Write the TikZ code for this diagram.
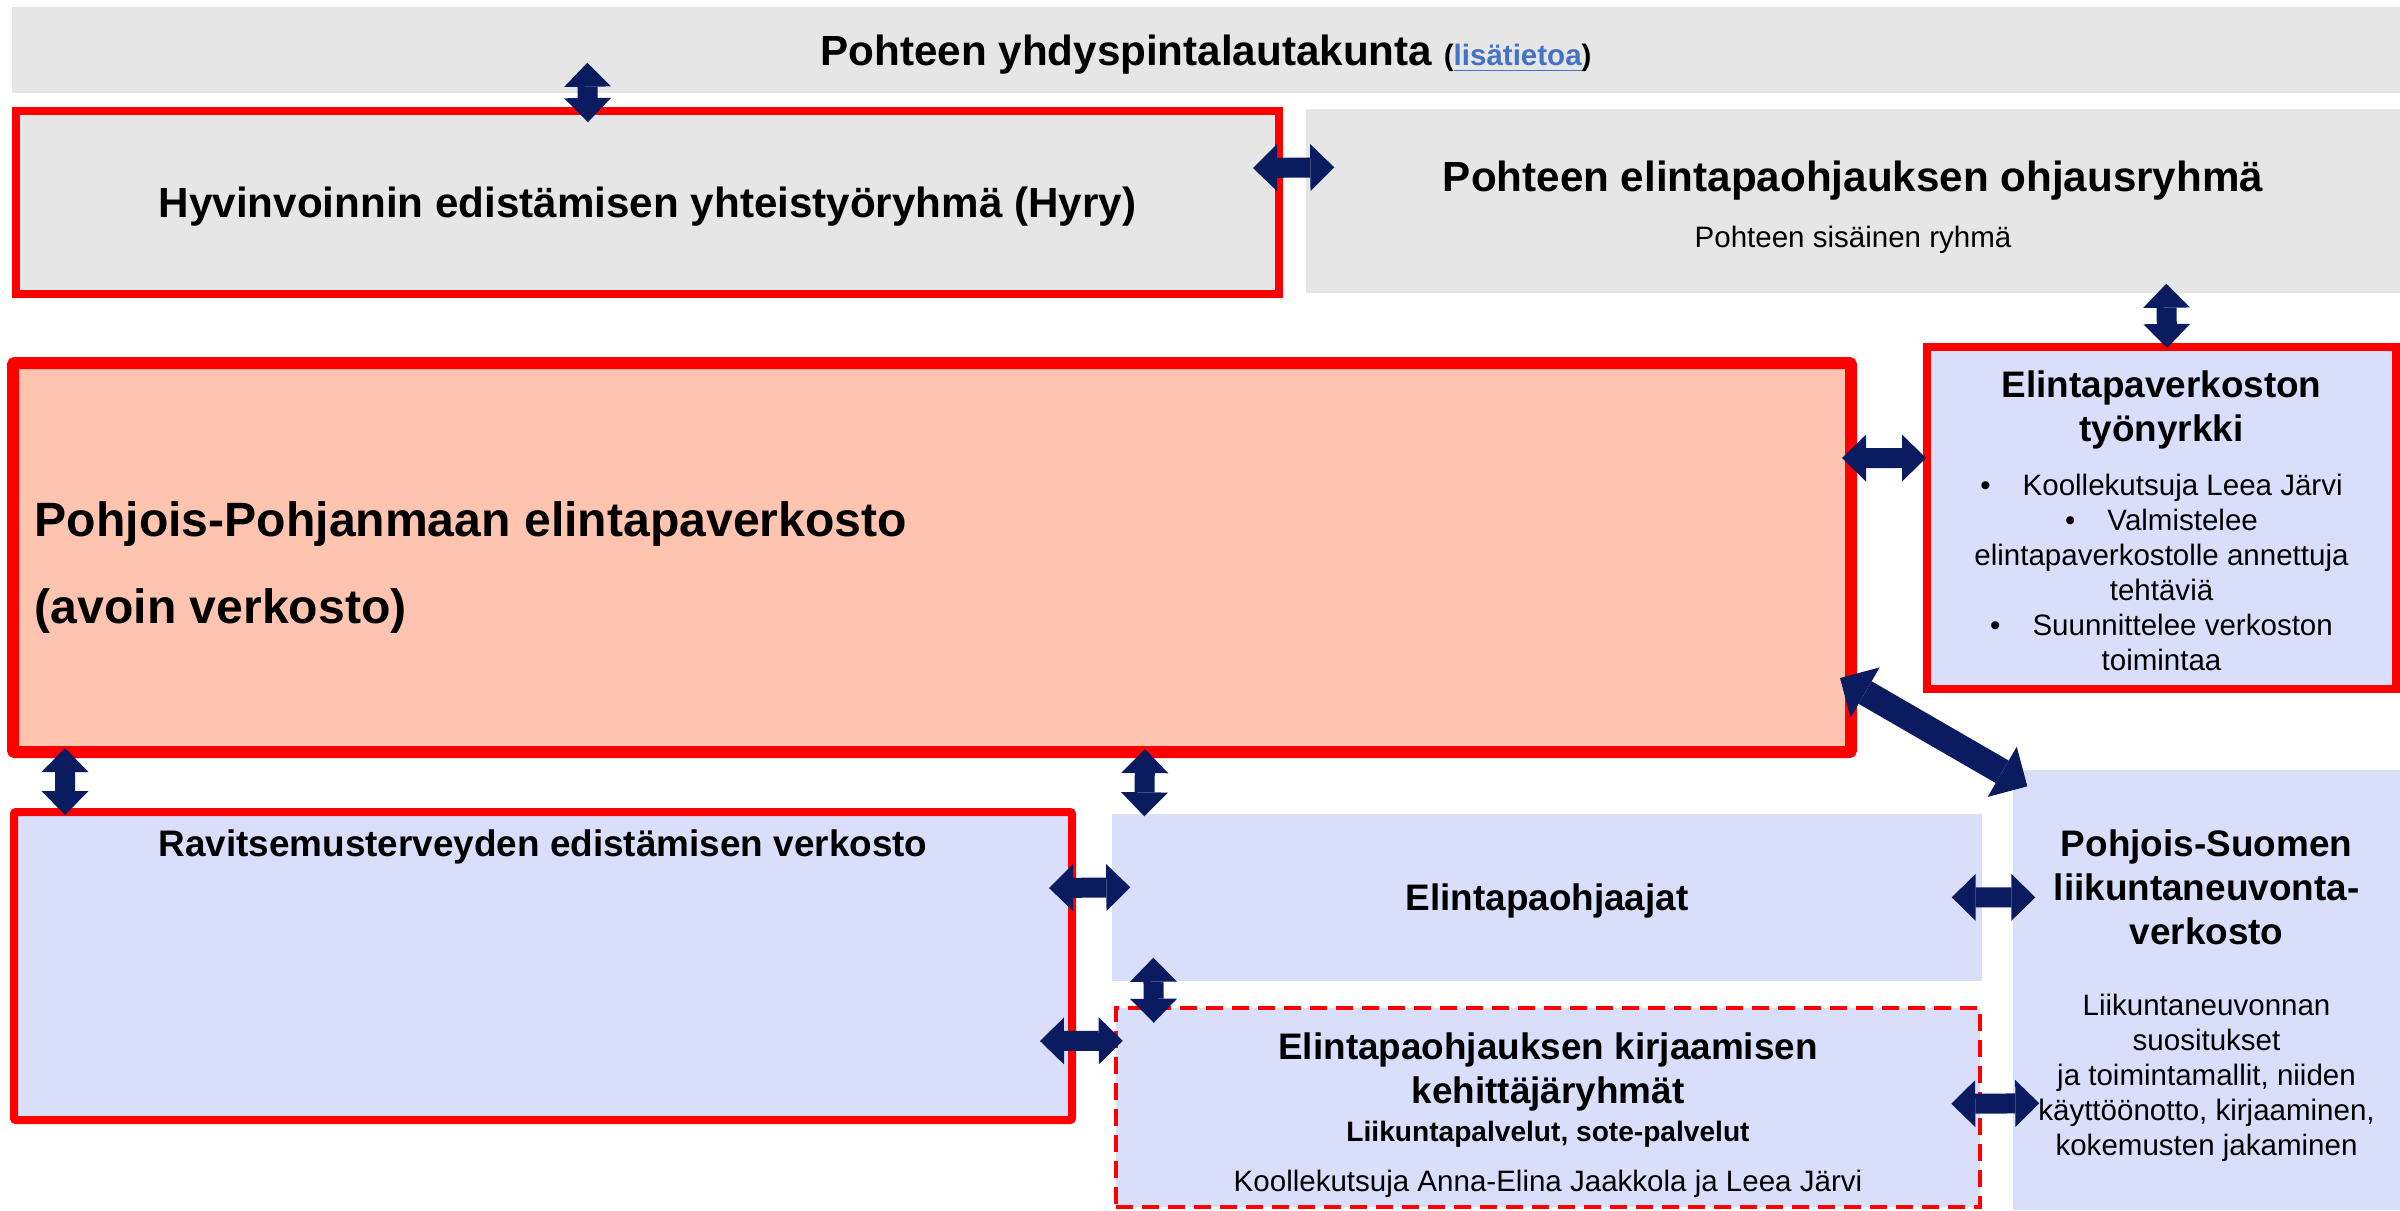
\documentclass[tikz,border=0pt]{standalone}
\usepackage{fontspec}
\setmainfont{Liberation Sans}
\usetikzlibrary{arrows.meta,calc}

\definecolor{boxgray}{HTML}{E7E6E6}
\definecolor{netsalmon}{HTML}{FFC4B0}
\definecolor{boxblue}{HTML}{D9DFFA}
\definecolor{arrnavy}{HTML}{0B1B60}
\definecolor{linkblue}{HTML}{4472C4}

\tikzset{
  grayfill/.style={fill=boxgray, inner sep=0pt},
  bluefill/.style={fill=boxblue, inner sep=0pt},
  redbox/.style={draw=red, line width=0.8mm, inner sep=0pt},
  dblarrow/.style={draw=arrnavy, line width=2mm,
    {Triangle[width=4.7mm,length=2.4mm,line width=0pt]}-{Triangle[width=4.7mm,length=2.4mm,line width=0pt]}},
  bigarrow/.style={draw=arrnavy, line width=2.6mm,
    {Triangle[width=5.8mm,length=2.9mm,line width=0pt]}-{Triangle[width=5.8mm,length=2.9mm,line width=0pt]}},
  hdtxt/.style={font=\fontsize{12pt}{14pt}\selectfont\bfseries},
  midtxt/.style={font=\fontsize{10.5pt}{12.5pt}\selectfont\bfseries, align=center},
  smalltxt/.style={font=\fontsize{8.4pt}{9.96pt}\selectfont, align=center},
}

\begin{document}
\begin{tikzpicture}[x=0.1mm, y=-0.1mm]
\useasboundingbox (0,0) rectangle (2400,1210);

% upper row
\node[grayfill, minimum width=238.8mm, minimum height=8.6mm, text depth=0pt, hdtxt] (yhd) at (1206,50)
  {Pohteen yhdyspintalautakunta {\fontsize{8.4pt}{10pt}\selectfont(\textcolor{linkblue}{\underline{lisätietoa}})}};
\node[redbox, fill=boxgray, minimum width=126.3mm, minimum height=18.3mm, text depth=0pt, hdtxt] (hyry) at (647.5,202.5)
  {Hyvinvoinnin edistämisen yhteistyöryhmä (Hyry)};
\node[grayfill, minimum width=109.4mm, minimum height=18.4mm] (ohjr) at (1853,201) {};
\node[hdtxt] (ohjrt) at ($(ohjr.center)+(0,-20)$) {Pohteen elintapaohjauksen ohjausryhmä};
\node[smalltxt] (ohjrs) at ($(ohjr.center)+(0,39)$) {Pohteen sisäinen ryhmä};

% the open network
\node[draw=red, line width=1.2mm, fill=netsalmon, rounded corners=0.2mm, inner sep=0pt,
  minimum width=183.8mm, minimum height=38.9mm] (pp) at (932,557.5) {};
\node[font=\fontsize{13.7pt}{16pt}\selectfont\bfseries, anchor=west, inner sep=0pt] (ppt)
  at ($(pp.west)+(27,-33)$) {Pohjois-Pohjanmaan elintapaverkosto};
\node[font=\fontsize{13.7pt}{16pt}\selectfont\bfseries, anchor=west, inner sep=0pt] (ppa)
  at ($(pp.west)+(27,54)$) {(avoin verkosto)};

\node[redbox, fill=boxblue, minimum width=46.9mm, minimum height=34.2mm] (tyo) at (2161.5,518) {};
\node[midtxt] (tyot) at ($(tyo.center)+(0,-108)$) {Elintapaverkoston\\työnyrkki};
\node[smalltxt] (tyob) at ($(tyo.center)+(0,54)$)
  {•\hspace{3.2mm}Koollekutsuja Leea Järvi\\•\hspace{3.2mm}Valmistelee\\elintapaverkostolle annettuja\\tehtäviä\\•\hspace{3.2mm}Suunnittelee verkoston\\toimintaa};

% lower row
\node[redbox, fill=boxblue, rounded corners=0.2mm, minimum width=105.8mm, minimum height=30.8mm] (rav) at (543,966) {};
\node[midtxt] (ravt) at ($(rav.north)+(0,39)$) {Ravitsemusterveyden edistämisen verkosto};

\node[bluefill, minimum width=87mm, minimum height=16.7mm, text depth=0pt, midtxt] (eoh) at (1547,897.5) {Elintapaohjaajat};

\node[draw=red, line width=0.45mm, dash pattern=on 1.7mm off 0.9mm, fill=boxblue, inner sep=0pt,
  minimum width=86.4mm, minimum height=19.9mm] (kir) at (1548,1107.5) {};
\node[midtxt] (kirt) at ($(kir.north)+(0,66)$) {Elintapaohjauksen kirjaamisen\\kehittäjäryhmät};
\node[font=\fontsize{8pt}{9.6pt}\selectfont\bfseries] (kirs) at ($(kir.north)+(0,128)$) {Liikuntapalvelut, sote-palvelut};
\node[smalltxt] (kirk) at ($(kir.north)+(0,178)$) {Koollekutsuja Anna-Elina Jaakkola ja Leea Järvi};

\node[bluefill, minimum width=38.7mm, minimum height=44mm] (pss) at (2206.5,990) {};
\node[midtxt] (psst) at ($(pss.north)+(0,118)$) {Pohjois-Suomen\\liikuntaneuvonta-\\verkosto};
\node[smalltxt] (psss) at ($(pss.north)+(0,309)$)
  {Liikuntaneuvonnan\\suositukset\\ja toimintamallit, niiden\\käyttöönotto, kirjaaminen,\\kokemusten jakaminen};

% arrows
\draw[dblarrow] ($(yhd.south west)+(576,-31)$) -- ($(hyry.north west)+(576,15)$);
\draw[dblarrow] ($(hyry.north east)+(-30,61)$) -- ($(ohjr.north west)+(29,59)$);
\draw[dblarrow] ($(ohjr.south west)+(861,-10)$) -- ($(tyo.north west)+(244,5)$);
\draw[dblarrow] ($(pp.north east)+(-15,101)$) -- ($(tyo.north west)+(3,115)$);
\draw[bigarrow] ($(pp.south east)+(-17,-80)$) -- ($(pss.north west)+(15,17)$);
\draw[dblarrow] ($(pp.south west)+(58,-10)$) -- ($(rav.north west)+(55,7)$);
\draw[dblarrow] ($(pp.south west)+(1138,-9)$) -- ($(eoh.north west)+(33,3)$);
\draw[dblarrow] ($(rav.north east)+(-27,80)$) -- ($(eoh.north west)+(19,74)$);
\draw[dblarrow] ($(rav.north east)+(-36,233)$) -- ($(kir.north west)+(9,35)$);
\draw[dblarrow] ($(eoh.south west)+(42,-24)$) -- ($(kir.north west)+(40,17)$);
\draw[dblarrow] ($(eoh.north east)+(-31,84)$) -- ($(pss.north west)+(23,128)$);
\draw[dblarrow] ($(kir.north east)+(-31,98)$) -- ($(pss.north west)+(27,334)$);
\end{tikzpicture}
\end{document}
